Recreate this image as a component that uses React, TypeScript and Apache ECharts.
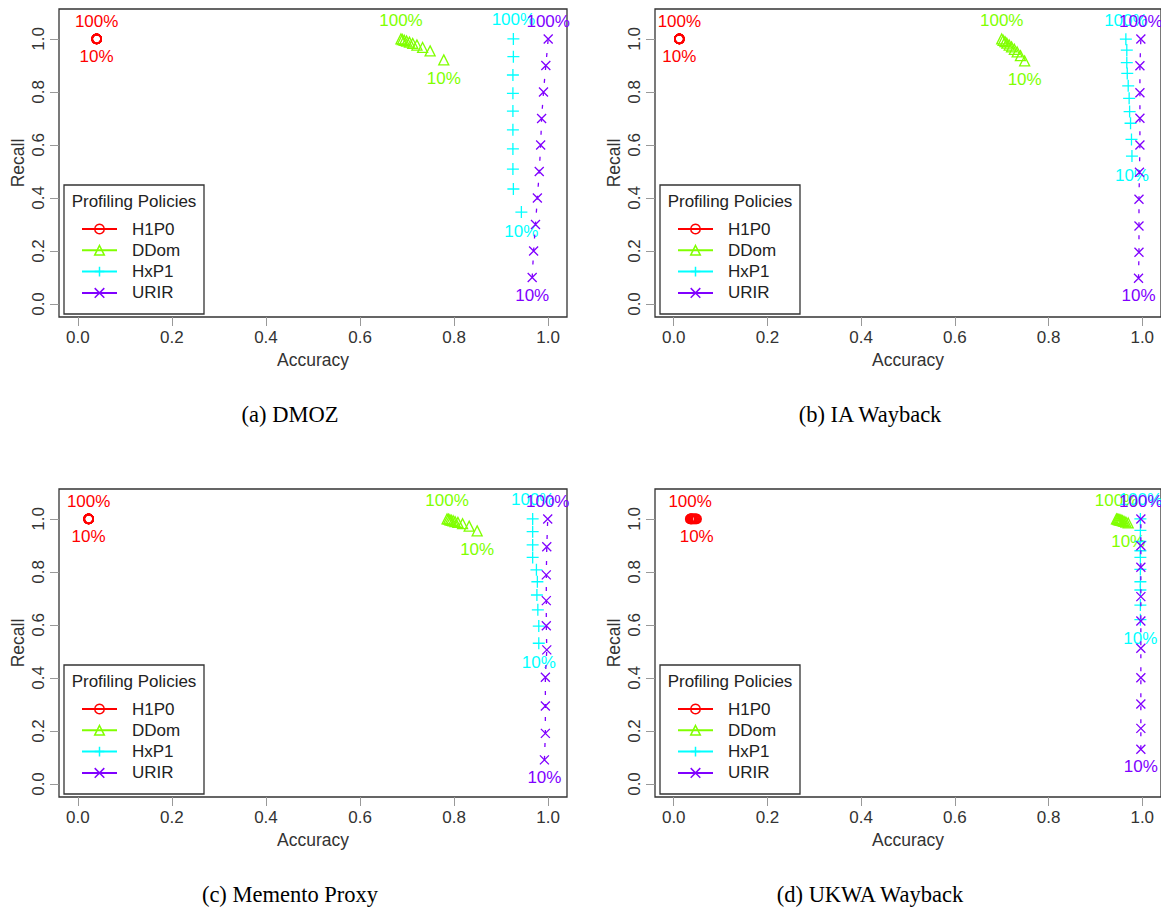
import React, { useEffect, useRef } from "react";
import * as echarts from "echarts";

// ---------- data ----------
const samples = ["10%", "20%", "30%", "40%", "50%", "60%", "70%", "80%", "90%", "100%"];
const policies = ["H1P0", "DDom", "HxP1", "URIR"];
const policyColors = ["#FF0000", "#80FF00", "#00FFFF", "#8000FF"];
const captions = ["(a) DMOZ", "(b) IA Wayback", "(c) Memento Proxy", "(d) UKWA Wayback"];
const tickValues = [0, 0.2, 0.4, 0.6, 0.8, 1.0];
const legendTitle = "Profiling Policies";
const xTitle = "Accuracy";
const yTitle = "Recall";

// (a) DMOZ — ordered 10% ... 100%
const dmozH1P0Acc = [0.040, 0.040, 0.040, 0.040, 0.040, 0.040, 0.040, 0.040, 0.040, 0.040];
const dmozH1P0Rec = [1.0, 1.0, 1.0, 1.0, 1.0, 1.0, 1.0, 1.0, 1.0, 1.0];
const dmozDDomAcc = [0.778, 0.749, 0.733, 0.721, 0.712, 0.705, 0.699, 0.694, 0.690, 0.687];
const dmozDDomRec = [0.921, 0.955, 0.968, 0.977, 0.983, 0.988, 0.992, 0.995, 0.998, 1.0];
const dmozHxP1Acc = [0.943, 0.926, 0.925, 0.925, 0.925, 0.925, 0.925, 0.925, 0.926, 0.926];
const dmozHxP1Rec = [0.347, 0.434, 0.509, 0.585, 0.657, 0.728, 0.795, 0.864, 0.933, 1.0];
const dmozURIRAcc = [0.966, 0.969, 0.973, 0.977, 0.981, 0.984, 0.986, 0.990, 0.995, 1.0];
const dmozURIRRec = [0.1, 0.2, 0.3, 0.4, 0.5, 0.6, 0.7, 0.8, 0.9, 1.0];

// (b) IA Wayback
const iaH1P0Acc = [0.012, 0.012, 0.012, 0.012, 0.012, 0.012, 0.012, 0.012, 0.012, 0.012];
const iaH1P0Rec = [1.0, 1.0, 1.0, 1.0, 1.0, 1.0, 1.0, 1.0, 1.0, 1.0];
const iaDDomAcc = [0.749, 0.740, 0.733, 0.727, 0.721, 0.716, 0.711, 0.707, 0.703, 0.700];
const iaDDomRec = [0.917, 0.937, 0.951, 0.961, 0.970, 0.977, 0.984, 0.990, 0.995, 1.0];
const iaHxP1Acc = [0.978, 0.977, 0.975, 0.973, 0.972, 0.970, 0.968, 0.967, 0.967, 0.965];
const iaHxP1Rec = [0.558, 0.621, 0.682, 0.726, 0.776, 0.823, 0.870, 0.911, 0.958, 0.999];
const iaURIRAcc = [0.992, 0.993, 0.993, 0.993, 0.994, 0.995, 0.995, 0.995, 0.995, 0.997];
const iaURIRRec = [0.097, 0.195, 0.294, 0.395, 0.497, 0.600, 0.701, 0.797, 0.899, 1.0];

// (c) Memento Proxy
const mpH1P0Acc = [0.023, 0.023, 0.023, 0.023, 0.023, 0.023, 0.023, 0.023, 0.023, 0.023];
const mpH1P0Rec = [1.0, 1.0, 1.0, 1.0, 1.0, 1.0, 1.0, 1.0, 1.0, 1.0];
const mpDDomAcc = [0.849, 0.832, 0.818, 0.808, 0.802, 0.798, 0.794, 0.791, 0.788, 0.785];
const mpDDomRec = [0.955, 0.973, 0.982, 0.987, 0.990, 0.993, 0.995, 0.997, 0.999, 1.0];
const mpHxP1Acc = [0.980, 0.980, 0.978, 0.976, 0.977, 0.975, 0.967, 0.967, 0.967, 0.967];
const mpHxP1Rec = [0.531, 0.596, 0.657, 0.713, 0.763, 0.808, 0.855, 0.902, 0.952, 1.0];
const mpURIRAcc = [0.992, 0.994, 0.994, 0.994, 0.997, 0.996, 0.996, 0.996, 0.997, 0.999];
const mpURIRRec = [0.091, 0.191, 0.294, 0.403, 0.506, 0.597, 0.692, 0.789, 0.895, 1.0];

// (d) UKWA Wayback
const ukH1P0Acc = [0.049, 0.047, 0.045, 0.043, 0.041, 0.039, 0.038, 0.037, 0.036, 0.035];
const ukH1P0Rec = [1.0, 1.0, 1.0, 1.0, 1.0, 1.0, 1.0, 1.0, 1.0, 1.0];
const ukDDomAcc = [0.970, 0.965, 0.961, 0.958, 0.955, 0.953, 0.951, 0.949, 0.947, 0.945];
const ukDDomRec = [0.985, 0.988, 0.991, 0.993, 0.995, 0.996, 0.997, 0.998, 0.999, 1.0];
const ukHxP1Acc = [0.996, 0.996, 0.996, 0.996, 0.996, 0.996, 0.996, 0.996, 0.996, 0.996];
const ukHxP1Rec = [0.620, 0.675, 0.732, 0.763, 0.810, 0.855, 0.880, 0.915, 0.957, 1.0];
const ukURIRAcc = [0.997, 0.997, 0.997, 0.997, 0.997, 0.997, 0.997, 0.997, 0.997, 0.997];
const ukURIRRec = [0.131, 0.210, 0.302, 0.401, 0.512, 0.615, 0.707, 0.818, 0.899, 1.0];

const panelAcc = [
  [dmozH1P0Acc, dmozDDomAcc, dmozHxP1Acc, dmozURIRAcc],
  [iaH1P0Acc, iaDDomAcc, iaHxP1Acc, iaURIRAcc],
  [mpH1P0Acc, mpDDomAcc, mpHxP1Acc, mpURIRAcc],
  [ukH1P0Acc, ukDDomAcc, ukHxP1Acc, ukURIRAcc],
];
const panelRec = [
  [dmozH1P0Rec, dmozDDomRec, dmozHxP1Rec, dmozURIRRec],
  [iaH1P0Rec, iaDDomRec, iaHxP1Rec, iaURIRRec],
  [mpH1P0Rec, mpDDomRec, mpHxP1Rec, mpURIRRec],
  [ukH1P0Rec, ukDDomRec, ukHxP1Rec, ukURIRRec],
];

// ---------- styling ----------
const SANS = "'Liberation Sans', Arial, Helvetica, sans-serif";
const SERIF = "'Liberation Serif', 'DejaVu Serif', serif";
const gridPos = [
  { left: 59, top: 9 },
  { left: 655, top: 9 },
  { left: 59, top: 489 },
  { left: 655, top: 489 },
];
const captionX = [290, 870, 290, 870];
const GW = 508;
const GH = 308;
const symbols = ["circle", "triangle", "path://M5,0L5,10M0,5L10,5", "path://M0,0L10,10M10,0L0,10"];
const symbolSizes = [9, 10, 12, 9];
const symbolBorder = [1.6, 1.3, 1.3, 1.3];

function buildOption() {
  const grid: any[] = [];
  const xAxis: any[] = [];
  const yAxis: any[] = [];
  const series: any[] = [];
  const legend: any[] = [];
  const graphic: any[] = [];

  gridPos.forEach((g, gi) => {
    grid.push({
      left: g.left,
      top: g.top,
      width: GW,
      height: GH,
      show: true,
      borderColor: "#333",
      borderWidth: 1.3,
      backgroundColor: "transparent",
    });
    xAxis.push({
      type: "value",
      gridIndex: gi,
      min: -0.04,
      max: 1.04,
      axisLine: { show: false, onZero: false },
      axisTick: { show: true, customValues: tickValues, length: 9, lineStyle: { color: "#999", width: 1 } },
      axisLabel: {
        customValues: tickValues,
        formatter: (v: number) => v.toFixed(1),
        fontSize: 17,
        color: "#333",
        fontFamily: SANS,
        margin: 12,
      },
      splitLine: { show: false },
      name: xTitle,
      nameLocation: "middle",
      nameGap: 34,
      nameTextStyle: { fontSize: 17.5, color: "#333", fontFamily: SANS },
    });
    yAxis.push({
      type: "value",
      gridIndex: gi,
      min: -0.049,
      max: 1.113,
      axisLine: { show: false, onZero: false },
      axisTick: { show: true, customValues: tickValues, length: 9, lineStyle: { color: "#999", width: 1 } },
      axisLabel: {
        customValues: tickValues,
        formatter: (v: number) => v.toFixed(1),
        fontSize: 17,
        color: "#333",
        fontFamily: SANS,
        margin: 12,
        rotate: 90,
      },
      splitLine: { show: false },
      name: yTitle,
      nameLocation: "middle",
      nameGap: 32,
      nameTextStyle: { fontSize: 17.5, color: "#333", fontFamily: SANS },
    });

    policies.forEach((name, k) => {
      const c = policyColors[k];
      const acc = panelAcc[gi][k];
      const rec = panelRec[gi][k];
      const last = acc.length - 1;
      series.push({
        type: "line",
        name,
        xAxisIndex: gi,
        yAxisIndex: gi,
        symbol: symbols[k],
        symbolSize: symbolSizes[k],
        showAllSymbol: true,
        silent: true,
        z: 2 + k,
        itemStyle: { color: "rgba(0,0,0,0)", borderColor: c, borderWidth: symbolBorder[k] },
        lineStyle:
          k === 3
            ? { color: c, width: 1.3, type: [4, 9] }
            : { color: c, width: 1.3, opacity: 0 },
        label: { color: c, fontSize: 17, fontFamily: SANS, distance: 4 },
        emphasis: { disabled: true },
        data: acc.map((x, i) => {
          const item: any = { value: [x, rec[i]] };
          if (i === 0) item.label = { show: true, position: "bottom", formatter: samples[i] };
          else if (i === last) item.label = { show: true, position: "top", formatter: samples[i] };
          return item;
        }),
      });
    });

    legend.push({
      orient: "vertical",
      left: g.left + 22,
      top: g.top + 211.5,
      padding: 0,
      itemWidth: 35,
      itemHeight: 12,
      itemGap: 4.3,
      selectedMode: false,
      data: policies.map((n) => ({ name: n })),
      textStyle: { fontSize: 17, color: "#222", fontFamily: SANS, lineHeight: 17, padding: [0, 0, 0, 10] },
      lineStyle: { type: "solid", width: 2, opacity: 1 },
      itemStyle: { borderWidth: 1.5 },
      z: 10,
    });

    graphic.push({
      type: "rect",
      z: 5,
      shape: { x: g.left + 5, y: g.top + 176, width: 140, height: 129 },
      style: { fill: "#fff", stroke: "#333", lineWidth: 1.3 },
      silent: true,
    });
    graphic.push({
      type: "text",
      z: 6,
      x: g.left + 75,
      y: g.top + 192,
      style: {
        text: legendTitle,
        fontSize: 17,
        fontFamily: SANS,
        fill: "#222",
        align: "center",
        verticalAlign: "middle",
        textAlign: "center",
        textVerticalAlign: "middle",
      },
      silent: true,
    });
    graphic.push({
      type: "text",
      z: 6,
      x: captionX[gi],
      y: g.top + 405,
      style: {
        text: captions[gi],
        fontSize: 22.5,
        fontFamily: SERIF,
        fill: "#000",
        align: "center",
        verticalAlign: "middle",
        textAlign: "center",
        textVerticalAlign: "middle",
      },
      silent: true,
    });
  });

  return {
    animation: false,
    backgroundColor: "#fff",
    textStyle: { fontFamily: SANS },
    grid,
    xAxis,
    yAxis,
    series,
    legend,
    graphic,
  };
}

export default function App() {
  const ref = useRef<HTMLDivElement>(null);
  useEffect(() => {
    if (!ref.current) return;
    const chart = echarts.init(ref.current, undefined, { renderer: "svg" });
    chart.setOption(buildOption() as any);
    return () => chart.dispose();
  }, []);
  return (
    <div
      ref={ref}
      style={{ position: "fixed", left: 0, top: 0, width: 1161, height: 907, background: "#fff" }}
    />
  );
}
